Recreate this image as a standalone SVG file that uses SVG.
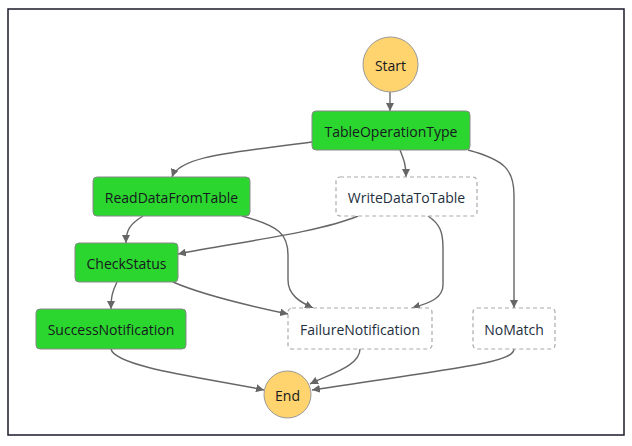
<svg xmlns="http://www.w3.org/2000/svg" width="632" height="446" viewBox="0 0 632 446">
<style>
.frame{fill:#fff;stroke:#1b1b2b;stroke-width:1.5}
.task{fill:#2bd62e;stroke:#888;stroke-width:1}
.dash{fill:#fff;stroke:#aaa;stroke-width:1.2;stroke-dasharray:4 3}
.term{fill:#ffd36e;stroke:#999;stroke-width:1}
.lbl{font-family:"Open Sans","Noto Sans","DejaVu Sans",sans-serif;font-size:14px;fill:#16191f;text-anchor:middle;dominant-baseline:central}
.lbl2{fill:#232f3e}
.edge{fill:none;stroke:#666;stroke-width:1.4}
</style>
<defs>
<marker id="arr" viewBox="0 0 10 10" refX="10" refY="5" markerWidth="8" markerHeight="8" markerUnits="userSpaceOnUse" orient="auto">
<path d="M0,0 L10,5 L0,10 z" fill="#666"/>
</marker>
</defs>
<rect class="frame" x="8" y="9" width="616" height="426"/>
<g id="connectors">
<path class="edge" marker-end="url(#arr)" d="M390,92 L390,111"/>
<path class="edge" marker-end="url(#arr)" d="M312,142 C240,152 180,155 172,177"/>
<path class="edge" marker-end="url(#arr)" d="M400,150 C404,160 406,165 406,177"/>
<path class="edge" marker-end="url(#arr)" d="M468,150 C505,160 514,170 514,195 L514,308"/>
<path class="edge" marker-end="url(#arr)" d="M143,216 C130,224 126,230 126,243"/>
<path class="edge" marker-end="url(#arr)" d="M242,216 C280,226 288,235 288,255 L288,280 C288,295 300,302 313,308"/>
<path class="edge" marker-end="url(#arr)" d="M358,216 C320,232 240,242 178,254"/>
<path class="edge" marker-end="url(#arr)" d="M428,216 C440,224 443,232 443,248 L443,285 C443,298 430,303 412,308"/>
<path class="edge" marker-end="url(#arr)" d="M117,282 C112,292 111,298 111,309"/>
<path class="edge" marker-end="url(#arr)" d="M173,282 C205,296 250,306 288,314"/>
<path class="edge" marker-end="url(#arr)" d="M111,349 C115,368 220,380 264,390"/>
<path class="edge" marker-end="url(#arr)" d="M360,349 C360,366 330,374 310,384"/>
<path class="edge" marker-end="url(#arr)" d="M514,349 C514,362 470,366 312,390"/>
</g>
<g id="Start"><circle class="term" cx="390.5" cy="64.5" r="27.5"/><text class="lbl" x="390.5" y="65">Start</text></g>
<g id="TableOperationType"><rect class="task" x="312" y="111" width="158" height="39" rx="4"/><text class="lbl" x="391" y="131">TableOperationType</text></g>
<g id="ReadDataFromTable"><rect class="task" x="93" y="177" width="157" height="39" rx="4"/><text class="lbl" x="171.5" y="197">ReadDataFromTable</text></g>
<g id="WriteDataToTable"><rect class="dash" x="336" y="177" width="141" height="39" rx="4"/><text class="lbl lbl2" x="406.5" y="197">WriteDataToTable</text></g>
<g id="CheckStatus"><rect class="task" x="75" y="243" width="103" height="39" rx="4"/><text class="lbl" x="126.5" y="263">CheckStatus</text></g>
<g id="SuccessNotification"><rect class="task" x="36" y="309" width="150" height="40" rx="4"/><text class="lbl" x="111" y="329">SuccessNotification</text></g>
<g id="FailureNotification"><rect class="dash" x="288" y="308" width="144" height="41" rx="4"/><text class="lbl lbl2" x="360" y="329">FailureNotification</text></g>
<g id="NoMatch"><rect class="dash" x="473" y="308" width="82" height="41" rx="4"/><text class="lbl lbl2" x="514" y="329">NoMatch</text></g>
<g id="End"><circle class="term" cx="287.5" cy="394.5" r="23.5"/><text class="lbl" x="287.5" y="395">End</text></g>
</svg>
